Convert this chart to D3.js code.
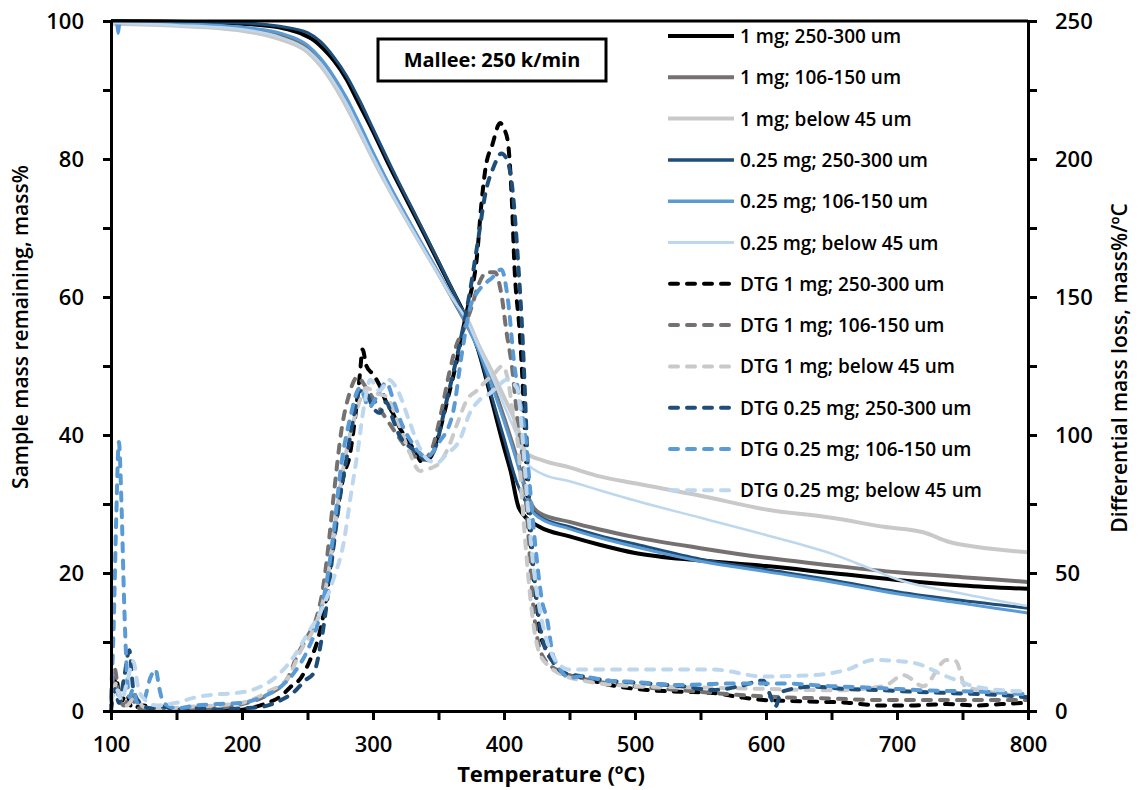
<!DOCTYPE html>
<html>
<head>
<meta charset="utf-8">
<script src="https://cdn.jsdelivr.net/npm/d3@7"></script>
<style>
body { margin: 0; background: #fff; }
svg text { font-family: "Open Sans", sans-serif; font-weight: 600; fill: #000; }
</style>
</head>
<body>
<svg width="1138" height="790"></svg>
<script>
// legend order = drawing order
var seriesNames = [
    "1 mg; 250-300 um", "1 mg; 106-150 um", "1 mg; below 45 um",
    "0.25 mg; 250-300 um", "0.25 mg; 106-150 um", "0.25 mg; below 45 um",
    "DTG 1 mg; 250-300 um", "DTG 1 mg; 106-150 um", "DTG 1 mg; below 45 um",
    "DTG 0.25 mg; 250-300 um", "DTG 0.25 mg; 106-150 um", "DTG 0.25 mg; below 45 um"
];
var seriesColors = ["#000000", "#767171", "#c9c9c9", "#1f4e79", "#5b9bd5", "#bdd7ee"];

var xTicks = [100, 150, 200, 250, 300, 350, 400, 450, 500, 550, 600, 650, 700, 750, 800];
var leftTicks = [0, 10, 20, 30, 40, 50, 60, 70, 80, 90, 100];
var rightTicks = [0, 25, 50, 75, 100, 125, 150, 175, 200, 225, 250];

// TG curves, [temperature, mass%]
var tg1mg250 = [[100,100],[150,99.9],[200,99.6],[230,99],[245,98.2],[255,97.2],[262,96],[270,94.3],[280,91.5],[288,88.5],[300,84],[310,80],[320,76.2],[330,72.5],[340,68.8],[350,65],[360,61.2],[370,57.4],[380,52.5],[390,45.5],[400,38.2],[405,34.8],[411,29.6],[415,28.4],[427,26.7],[450,25.3],[473,24.1],[500,22.9],[550,21.8],[600,21],[650,20],[700,19],[750,18.2],[800,17.7]];
var tg1mg106 = [[100,99.8],[150,99.5],[200,98.9],[230,97.8],[250,96],[260,94.2],[270,91.5],[280,88.3],[290,84.5],[300,80.6],[310,76.9],[320,73.4],[330,70],[340,66.7],[350,63.4],[360,60],[370,56.6],[380,52.8],[390,48],[400,42.5],[410,36.5],[416,32.5],[421,29.9],[427,28.7],[450,27.4],[473,26.3],[500,25.2],[550,23.6],[600,22.2],[650,21.1],[700,20.1],[750,19.4],[800,18.7]];
var tg1mg45 = [[100,99.6],[150,99.3],[200,98.6],[230,97.3],[250,95.5],[260,93.5],[270,90.8],[280,87.5],[290,83.8],[300,80],[310,76.4],[320,73],[330,69.7],[340,66.5],[350,63.3],[360,60.1],[372,56.8],[380,53.3],[390,49.5],[400,45.5],[410,41.3],[417,37.4],[430,36.3],[450,35.3],[473,34],[500,33],[550,31.2],[600,29.2],[650,28],[690,26.7],[720,25.9],[740,24.5],[760,23.8],[800,23]];
var tg025mg250 = [[100,100],[150,99.9],[200,99.7],[230,99.2],[250,98.3],[260,97],[270,94.8],[280,92],[290,88.4],[300,84.4],[310,80.4],[320,76.5],[330,72.8],[340,69],[350,65.2],[360,61.3],[370,57.3],[380,52.5],[390,46],[400,39.5],[410,33],[416,30.5],[420,29.4],[427,28.2],[450,26.7],[473,25.4],[500,24.2],[550,22],[600,20.5],[650,19],[700,17.3],[750,16],[800,14.9]];
var tg025mg106 = [[100,99.8],[104,99.8],[105.5,98.2],[107,99.8],[150,99.6],[200,99.1],[230,98.2],[250,96.5],[260,94.6],[270,92],[280,88.8],[290,85],[300,81],[310,77.2],[320,73.6],[330,70.2],[340,66.8],[350,63.5],[360,60.1],[370,56.6],[380,52.5],[390,47.5],[400,42],[410,36],[416,32],[420,29.4],[427,28],[450,26.4],[473,25.1],[500,23.8],[550,21.7],[600,20.2],[650,18.7],[700,17],[750,15.6],[800,14.2]];
var tg025mg45 = [[100,99.7],[150,99.4],[200,98.8],[230,97.6],[250,95.8],[260,93.9],[270,91.2],[280,88],[290,84.2],[300,80.3],[310,76.6],[320,73.1],[330,69.8],[340,66.5],[350,63.3],[360,60],[372,56.5],[380,53],[390,48.8],[400,44.3],[410,39.8],[417,36],[430,34.3],[450,33.3],[473,32],[500,30.5],[550,28],[600,25.5],[650,22.8],[680,20.6],[700,19.1],[750,17],[800,15.2]];

// DTG curves, [temperature, mass%/ºC]
var dtg1mg250 = [[100,2],[104,12],[107,3],[112,6],[116,1],[125,2],[135,0.5],[150,0],[180,0],[200,0.5],[210,1.5],[220,3],[230,5.5],[237,8.7],[245,12],[252,18.5],[258,26],[264,40],[269,58],[274,76],[278,86],[282,92],[286,105],[290,122],[292,131],[295,125],[300,122],[305,118],[310,112],[315,108],[320,103],[325,99],[331,95],[338,90],[344,92],[350,100],[357,113],[364,127],[369,139],[374,150],[379,163],[383,185],[386,197],[391,205],[397,213],[400,211],[403,206],[406,185],[408,161],[412,137],[414,121],[416,100],[418,78],[421,57],[425,39],[428,27],[435,21],[443,14],[460,12],[480,9.5],[509,7.6],[535,7],[560,6.5],[580,5],[598,4],[630,3.5],[662,3],[687,2],[710,2],[738,2.5],[760,2],[780,2.5],[800,3]];
var dtg1mg106 = [[100,3],[103,15],[106,5],[110,2],[115,6],[120,1],[130,1],[150,0.5],[180,1],[200,2.5],[220,6],[235,12],[242,20],[250,27],[257,34],[262,45],[266,60],[270,78],[276,102],[282,115],[288,121],[295,117],[303,111],[310,106],[320,99],[330,93],[338,91],[345,95],[352,108],[358,122],[364,133],[369,138],[375,146],[381,155],[387,159],[393,159],[398,151],[402,137],[406,125],[410,107],[414,92],[418,68],[422,40],[426,25],[432,18],[440,15],[458,12],[480,10],[509,8.5],[534,7.6],[560,6.5],[611,5],[650,4.5],[687,4],[740,4],[800,4]];
var dtg1mg45 = [[100,1],[104,10],[108,4],[112,2],[118,5],[125,1.5],[140,1],[160,1.5],[180,2],[200,3],[220,7],[235,12],[245,22],[255,30],[262,40],[268,56],[274,78],[280,95],[287,108],[295,117],[303,115],[310,114],[318,106],[326,96],[336,87],[344,88],[351,90],[358,96],[365,105],[372,113],[379,116],[385,119],[392,122],[399,125],[403,120],[407,107],[411,95],[414,75],[417,57],[422,33],[427,21],[435,16],[445,13],[460,11],[500,9],[550,8.5],[600,8],[650,7.5],[690,9],[705,13],[720,9],[738,18.5],[745,18],[752,9],[770,7],[800,5]];
var dtg025mg250 = [[100,0],[103,8],[106,3],[110,12],[114,22],[117,8],[122,3],[130,1],[140,1.5],[150,0.5],[165,1],[180,0.5],[200,1],[215,1.5],[230,4],[240,7],[248,11],[255,14],[260,24],[265,40],[270,60],[275,78],[280,92],[285,106],[290,116],[295,115],[300,110],[305,108],[310,112],[315,106],[320,100],[330,95],[341,91],[348,96],[355,110],[362,124],[368,137],[374,152],[380,170],[386,188],[392,197],[398,202],[402,200],[406,191],[411,161],[414,137],[416,115],[418,90],[421,62],[425,40],[430,25],[437,18],[445,14],[460,12.5],[480,11],[509,10],[535,9],[560,7.6],[580,9],[598,11],[603,6],[607,1.5],[612,7],[636,8.8],[660,8],[690,7.5],[712,7],[740,6.5],[770,6],[800,5]];
var dtg025mg106 = [[100,5],[102,30],[104,70],[106,97.5],[108,75],[110,40],[112,15],[114,5],[117,8],[120,3],[125,4],[130,12],[134,15],[137,8],[140,3],[150,1],[165,2],[180,2.5],[200,3],[215,5],[230,9],[240,14],[250,22],[258,32],[265,48],[270,65],[276,90],[282,105],[290,117],[297,110],[303,114],[310,119],[316,112],[322,104],[330,97],[341,92],[350,97],[361,108],[368,130],[374,146],[380,152],[386,155],[391,157],[398,160],[403,149],[408,125],[412,113],[416,101],[420,80],[425,55],[429,40],[433,33],[437,21],[443,15],[450,12],[458,12.5],[480,11],[500,10.5],[534,9.4],[560,9.8],[580,10],[611,10],[650,9],[687,8.3],[720,7.5],[763,7],[800,6]];
var dtg025mg45 = [[100,3],[104,8],[108,4],[112,10],[117,18],[121,8],[126,4],[135,2],[150,3],[165,5],[180,6],[195,6.5],[210,8],[225,12],[240,20],[250,28],[260,36],[270,48],[278,62],[283,78],[288,93],[293,110],[298,120],[305,116],[312,120],[319,116],[327,106],[335,96],[342,91],[349,90],[356,93],[366,98],[374,108],[382,113],[389,115],[396,118],[402,120],[410,117],[414,100],[418,75],[423,50],[428,35],[433,25],[440,18],[450,15],[458,15],[509,15],[560,15],[598,12.5],[636,13],[662,15],[682,18.5],[712,17.5],[738,12.5],[763,8.5],[800,7]];

var tgData = [tg1mg250, tg1mg106, tg1mg45, tg025mg250, tg025mg106, tg025mg45];
var dtgData = [dtg1mg250, dtg1mg106, dtg1mg45, dtg025mg250, dtg025mg106, dtg025mg45];
var solidWidth = [4, 4, 4, 3, 3, 2.5];

var svg = d3.select("svg");
svg.append("rect").attr("width", 1138).attr("height", 790).attr("fill", "#fff");

var x = d3.scaleLinear().domain([100, 800]).range([111, 1028]);
var yL = d3.scaleLinear().domain([0, 100]).range([711, 21]);
var yR = d3.scaleLinear().domain([0, 250]).range([711, 21]);

var lineL = d3.line().x(function (d) { return x(d[0]); }).y(function (d) { return yL(d[1]); }).curve(d3.curveMonotoneX);
var lineR = d3.line().x(function (d) { return x(d[0]); }).y(function (d) { return yR(d[1]); }).curve(d3.curveMonotoneX);

var plot = svg.append("g");

tgData.forEach(function (s, i) {
    plot.append("path").attr("d", lineL(s))
        .attr("fill", "none").attr("stroke", seriesColors[i])
        .attr("stroke-width", solidWidth[i]).attr("stroke-linejoin", "round");
});
dtgData.forEach(function (s, i) {
    plot.append("path").attr("d", lineR(s))
        .attr("fill", "none").attr("stroke", seriesColors[i])
        .attr("stroke-width", 4).attr("stroke-dasharray", "8,9")
        .attr("stroke-linecap", "round").attr("stroke-linejoin", "round");
});

// top border
svg.append("line").attr("x1", 111).attr("x2", 1028).attr("y1", 21).attr("y2", 21)
    .attr("stroke", "#000").attr("stroke-width", 3);

function styleAxis(g) {
    g.select(".domain").attr("stroke-width", 3);
    g.selectAll(".tick line").attr("stroke-width", 3);
    g.selectAll(".tick text").attr("font-size", 22).attr("font-family", null);
}

svg.append("g").attr("transform", "translate(0,711)")
    .call(d3.axisBottom(x).tickValues(xTicks).tickSize(9).tickSizeOuter(0).tickPadding(16)
        .tickFormat(function (d) { return d % 100 === 0 ? d : ""; }))
    .call(styleAxis);

svg.append("g").attr("transform", "translate(111,0)")
    .call(d3.axisLeft(yL).tickValues(leftTicks).tickSize(8).tickSizeOuter(0).tickPadding(19)
        .tickFormat(function (d) { return d % 20 === 0 ? d : ""; }))
    .call(styleAxis);

svg.append("g").attr("transform", "translate(1028,0)")
    .call(d3.axisRight(yR).tickValues(rightTicks).tickSize(9).tickSizeOuter(0).tickPadding(18)
        .tickFormat(function (d) { return d % 50 === 0 ? d : ""; }))
    .call(styleAxis);

// axis titles
svg.append("text").attr("transform", "translate(28,327) rotate(-90)")
    .attr("text-anchor", "middle").attr("font-size", 21).text("Sample mass remaining, mass%");
svg.append("text").attr("transform", "translate(1127,368) rotate(-90)")
    .attr("text-anchor", "middle").attr("font-size", 21).text("Differential mass loss, mass%/ºC");
svg.append("text").attr("x", 551).attr("y", 782)
    .attr("text-anchor", "middle").attr("font-size", 22).style("font-weight", 700).text("Temperature (ºC)");

// title box
svg.append("rect").attr("x", 378).attr("y", 39).attr("width", 228).attr("height", 42)
    .attr("fill", "#fff").attr("stroke", "#000").attr("stroke-width", 3);
svg.append("text").attr("x", 492).attr("y", 67).attr("text-anchor", "middle")
    .attr("font-size", 20).style("font-weight", 700).text("Mallee: 250 k/min");

// legend
var legend = svg.append("g");
seriesNames.forEach(function (name, i) {
    var yy = 36 + i * 41.3;
    var c = seriesColors[i % 6];
    var ln = legend.append("line").attr("x1", 668).attr("x2", 734).attr("y1", yy).attr("y2", yy)
        .attr("stroke", c);
    if (i < 6) {
        ln.attr("stroke-width", solidWidth[i] + (i < 3 ? 0 : 0.5));
    } else {
        ln.attr("stroke-width", 4).attr("stroke-dasharray", "8,9").attr("stroke-linecap", "round")
            .attr("x1", 670);
    }
    legend.append("text").attr("x", 740).attr("y", yy + 7).attr("font-size", 19).text(name);
});
</script>
</body>
</html>
